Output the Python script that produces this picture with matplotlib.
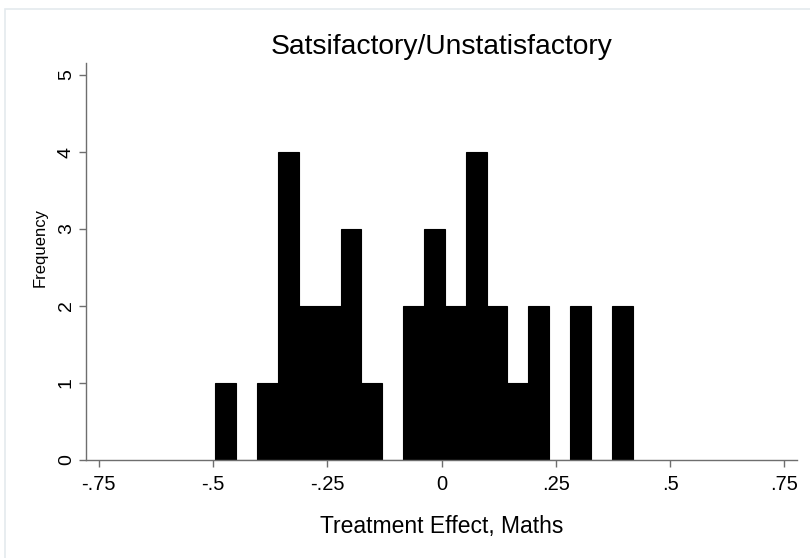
import numpy as np
import matplotlib
matplotlib.use("Agg")
import matplotlib.pyplot as plt
from matplotlib.patches import Rectangle

# Histogram bins (20 bins of equal width)
bin_min = -0.4946
bin_max = 0.4181
counts = [1, 0, 1, 4, 2, 2, 3, 1, 0, 2, 3, 2, 4, 2, 1, 2, 0, 2, 0, 2]

x_ticks = [-0.75, -0.5, -0.25, 0, 0.25, 0.5, 0.75]
x_tick_labels = ["-.75", "-.5", "-.25", "0", ".25", ".5", ".75"]
y_ticks = [0, 1, 2, 3, 4, 5]

title = "Satsifactory/Unstatisfactory"
x_label = "Treatment Effect, Maths"
y_label = "Frequency"

plt.rcParams["font.family"] = ["Liberation Sans", "DejaVu Sans"]

edges = np.linspace(bin_min, bin_max, len(counts) + 1)
widths = np.diff(edges)

fig = plt.figure(figsize=(8.1, 5.58), dpi=100)
ax = fig.add_axes([86 / 810, 1 - 460 / 558, 711 / 810, 397 / 558])

ax.bar(edges[:-1], counts, width=widths, align="edge",
       color="black", edgecolor="black", linewidth=0.8)

ax.set_xlim(-0.7774, 0.7774)
ax.set_ylim(0, 5.156)

ax.set_xticks(x_ticks)
ax.set_xticklabels(x_tick_labels)
ax.set_yticks(y_ticks)
ax.set_yticklabels([str(v) for v in y_ticks], rotation=90, va="center")

for side in ["top", "right"]:
    ax.spines[side].set_visible(False)
for side in ["left", "bottom"]:
    ax.spines[side].set_color("#6e6e6e")
    ax.spines[side].set_linewidth(1.0)

ax.tick_params(axis="both", direction="out", length=5, width=1.0,
               color="#6e6e6e")
ax.tick_params(axis="x", pad=6, labelsize=14.5)
ax.tick_params(axis="y", pad=3, labelsize=14)

ax.set_xlabel(x_label, fontsize=16.5, labelpad=15)
ax.set_ylabel(y_label, fontsize=12)
ax.yaxis.label.set_verticalalignment("center")
ax.yaxis.set_label_coords(-0.065, 0.535)
ax.set_title(title, fontsize=20.3, pad=6.5)

# faint outer frame of the graph region
fig.patches.append(Rectangle((5 / 810, -0.05), 1.2, (558 - 9) / 558 + 0.05,
                             transform=fig.transFigure, fill=False,
                             edgecolor="#e4eaee", linewidth=1.2))

fig.savefig("out.png", dpi=100)
